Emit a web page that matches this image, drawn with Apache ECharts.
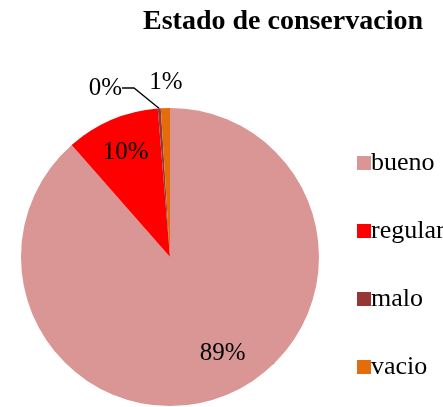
<!DOCTYPE html>
<html>
<head>
<meta charset="utf-8">
<script src="https://cdn.jsdelivr.net/npm/echarts@6/dist/echarts.min.js"></script>
<style>
  html, body { margin: 0; padding: 0; background: #fff; }
  #chart { width: 443px; height: 407px; }
</style>
</head>
<body>
<div id="chart"></div>
<script>
// Estado de conservacion: share of items by condition
const categories = ['bueno', 'regular', 'malo', 'vacio'];
const counts = [270, 31, 1, 3];
const colors = ['#D99694', '#FF0000', '#953735', '#E46C0A'];

const FONT = '"Liberation Serif", "Times New Roman", serif';
const CX = 170, CY = 257, R = 149;

const chart = echarts.init(document.getElementById('chart'));

const data = categories.map((name, i) => {
  const item = { name, value: counts[i], itemStyle: { color: colors[i] } };
  if (i >= 2) {
    item.label = { position: 'outside' };
    item.labelLine = { show: i === 2, length: 8, length2: 12 };
  }
  return item;
});

chart.setOption({
  animation: false,
  title: {
    text: 'Estado de conservacion',
    left: 143,
    top: 8,
    padding: 0,
    textStyle: { fontFamily: FONT, fontWeight: 'bold', fontSize: 28, color: '#000' }
  },
  legend: {
    orient: 'vertical',
    left: 352,
    top: 144,
    itemWidth: 14,
    itemHeight: 14,
    itemGap: 40,
    icon: 'rect',
    data: categories,
    textStyle: { fontFamily: FONT, fontSize: 26, color: '#000', lineHeight: 28, padding: [0, 0, 0, -5] }
  },
  series: [{
    type: 'pie',
    center: [CX, CY],
    radius: R,
    startAngle: 90,
    clockwise: true,
    percentPrecision: 0,
    data: data,
    label: {
      position: 'inside',
      formatter: '{d}%',
      fontFamily: FONT,
      fontSize: 25,
      color: '#000',
      overflow: 'none'
    },
    labelLine: { lineStyle: { color: '#000', width: 1.3 } },
    emphasis: { disabled: true },
    labelLayout: function (p) {
      const r = p.labelRect;
      const lx = r.x + r.width / 2, ly = r.y + r.height / 2;
      if (p.dataIndex < 2) {
        // push the inside labels toward the rim; the big slice's label also swings a little toward its start
        const k = p.dataIndex === 0 ? 1.42 : 1.46;
        const turn = p.dataIndex === 0 ? -8 * Math.PI / 180 : 0;
        const vx = (lx - CX) * k, vy = (ly - CY) * k;
        const c = Math.cos(turn), s = Math.sin(turn);
        return { x: CX + vx * c - vy * s, y: CY + vx * s + vy * c, align: 'center', verticalAlign: 'middle' };
      }
      if (p.dataIndex === 3) {
        return { x: CX - 4, y: CY - R - 26, align: 'center', verticalAlign: 'middle' };
      }
      return { x: CX - 48, y: CY - R - 20, align: 'right', verticalAlign: 'middle' };
    }
  }]
});
</script>
</body>
</html>
